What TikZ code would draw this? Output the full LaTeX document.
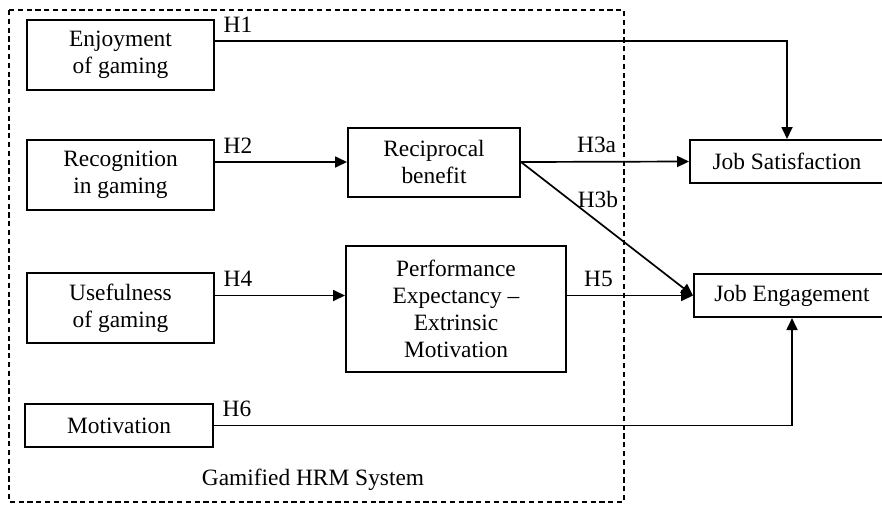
\documentclass[tikz,border=0pt]{standalone}
\usepackage{fontspec}
\setmainfont{Liberation Serif}
\usepackage{tikz}
\usetikzlibrary{arrows.meta, positioning, calc}

\begin{document}
\begin{tikzpicture}[
    x=0.5pt, y=-0.5pt,
    font=\fontsize{11.7}{13.5}\selectfont,
    box/.style={rectangle, draw, line width=1pt, inner sep=0pt, align=center},
    arrow/.style={-{Triangle[length=6pt, width=5.5pt]}, line width=0.85pt},
    hlabel/.style={inner sep=3.9pt}
]
    \useasboundingbox (0,0) rectangle (882,504);

    % System boundary
    \draw[line width=0.8pt, dash pattern=on 2.6pt off 1.8pt] (9,10) rectangle (624,502);
    \node (sys) at (313,480) {Gamified HRM System};

    % Antecedents
    \node[box, minimum width=93.5pt, minimum height=35pt] (enjoy) at (120.5,55) {Enjoyment\\of gaming};
    \node[box, minimum width=93.5pt, minimum height=35pt] (recog) at (120.5,175) {Recognition\\in gaming};
    \node[box, minimum width=93.5pt, minimum height=35pt] (useful) at (120.5,308) {Usefulness\\of gaming};
    \node[box, minimum width=94pt, minimum height=21.5pt] (motiv) at (119,425.5) {Motivation};

    % Mediators
    \node[box, minimum width=86pt, minimum height=34.5pt] (recip) at (434,162) {Reciprocal\\benefit};
    \node[box, minimum width=110pt, minimum height=63pt] (perf) at (456,309) {Performance\\Expectancy --\\Extrinsic\\Motivation};

    % Outcomes
    \node[box, minimum width=97pt, minimum height=21.5pt] (jobsat) at (787,161.5) {Job Satisfaction};
    \node[box, minimum width=98pt, minimum height=21.5pt] (jobeng) at (792,295.5) {Job Engagement};

    % Arrows
    \draw[arrow] ([yshift=7pt]enjoy.east) node[hlabel, above right] {H1} -| (jobsat.north);
    \draw[arrow] (recog.east |- recip.west) node[hlabel, above right] {H2} -- (recip.west);
    \draw[arrow] (recip.east) -- node[hlabel, above, pos=0.45] {H3a} (jobsat.west);
    \draw[arrow] (recip.east) -- node[hlabel, right, pos=0.28] {H3b} (jobeng.west);
    \draw[arrow] (useful.east |- jobeng.west) node[hlabel, above right] {H4} -- (perf.west |- jobeng.west);
    \draw[arrow] (perf.east |- jobeng.west) -- node[hlabel, above, pos=0.25] {H5} (jobeng.west);
    \draw[arrow] (motiv.east) node[hlabel, above right] {H6} -| (jobeng.south);

\end{tikzpicture}
\end{document}
